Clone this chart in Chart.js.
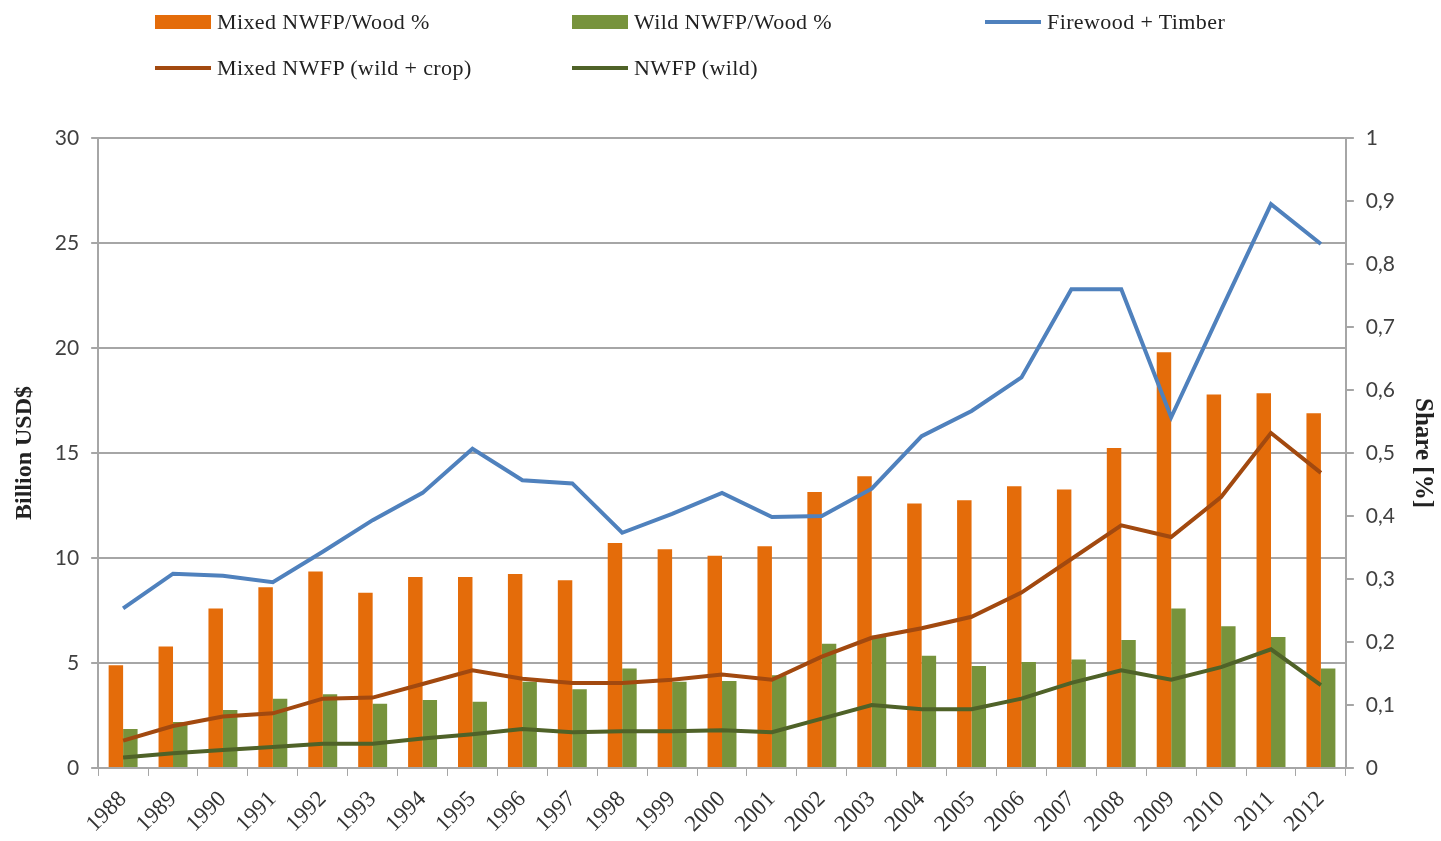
<!DOCTYPE html>
<html>
<head>
<meta charset="utf-8">
<title>NWFP vs wood</title>
<script src="https://cdn.jsdelivr.net/npm/chart.js@4.4.1/dist/chart.umd.min.js"></script>
<style>
  body { margin: 0; background: #fff; }
  #wrap { position: relative; width: 1441px; height: 841px; overflow: hidden; }
  #legend { position: absolute; left: 0; top: 0; width: 1441px; height: 100px;
            font-family: "Liberation Serif", "DejaVu Serif", serif; font-size: 22px; color: #222;
            letter-spacing: 0.4px; }
  .item { position: absolute; display: flex; align-items: center; height: 26px; }
  .sw { width: 56px; margin-right: 6px; }
</style>
</head>
<body>
<div id="wrap">
  <canvas id="chart" width="1441" height="841"></canvas>
  <div id="legend"></div>
</div>
<script>
// data
const years = ['1988','1989','1990','1991','1992','1993','1994','1995','1996','1997','1998','1999',
  '2000','2001','2002','2003','2004','2005','2006','2007','2008','2009','2010','2011','2012'];

// shares (right axis)
const mixedShare = [0.163, 0.193, 0.253, 0.287, 0.312, 0.278, 0.303, 0.303, 0.308, 0.298, 0.357, 0.347,
  0.337, 0.352, 0.438, 0.463, 0.420, 0.425, 0.447, 0.442, 0.508, 0.660, 0.593, 0.595, 0.563];
const wildShare = [0.062, 0.073, 0.092, 0.110, 0.117, 0.102, 0.108, 0.105, 0.137, 0.125, 0.158, 0.137,
  0.138, 0.147, 0.197, 0.210, 0.178, 0.162, 0.168, 0.172, 0.203, 0.253, 0.225, 0.208, 0.158];

// billion USD (left axis)
const firewoodTimber = [7.6, 9.25, 9.15, 8.85, 10.3, 11.8, 13.1, 15.2, 13.7, 13.55, 11.2, 12.1,
  13.1, 11.95, 12.0, 13.3, 15.8, 17.0, 18.6, 22.8, 22.8, 16.7, 21.8, 26.85, 24.95];
const mixedNwfp = [1.3, 2.0, 2.45, 2.6, 3.3, 3.35, 4.0, 4.65, 4.25, 4.05, 4.05, 4.2,
  4.45, 4.2, 5.3, 6.2, 6.65, 7.2, 8.35, 9.95, 11.55, 11.0, 12.9, 15.95, 14.05];
const wildNwfp = [0.5, 0.7, 0.85, 1.0, 1.15, 1.15, 1.4, 1.6, 1.85, 1.7, 1.75, 1.75,
  1.8, 1.7, 2.35, 3.0, 2.8, 2.8, 3.3, 4.05, 4.65, 4.2, 4.8, 5.65, 3.95];

const leftMax = 30, leftStep = 5;
const rightMax = 1, rightStep = 0.1;

const labelFont = { family: 'Lato, "Liberation Sans", sans-serif', size: 21 };
const gridGrey = '#a6a6a6';

const ctx = document.getElementById('chart');

const chart = new Chart(ctx, {
  type: 'bar',
  data: {
    labels: years,
    datasets: [
      { type: 'bar', label: 'Mixed NWFP/Wood %', data: mixedShare, yAxisID: 'y1',
        backgroundColor: '#e46c0a', categoryPercentage: 0.58, barPercentage: 1, order: 2 },
      { type: 'bar', label: 'Wild NWFP/Wood %', data: wildShare, yAxisID: 'y1',
        backgroundColor: '#77933c', categoryPercentage: 0.58, barPercentage: 1, order: 2 },
      { type: 'line', label: 'Firewood + Timber', data: firewoodTimber, yAxisID: 'y',
        borderColor: '#4f81bd', borderWidth: 4, pointRadius: 0, tension: 0, order: 1 },
      { type: 'line', label: 'Mixed NWFP (wild + crop)', data: mixedNwfp, yAxisID: 'y',
        borderColor: '#a2490f', borderWidth: 4, pointRadius: 0, tension: 0, order: 1 },
      { type: 'line', label: 'NWFP (wild)', data: wildNwfp, yAxisID: 'y',
        borderColor: '#4f6228', borderWidth: 4, pointRadius: 0, tension: 0, order: 1 }
    ]
  },
  options: {
    responsive: false,
    animation: false,
    layout: { padding: { top: 138, left: 10, right: 0, bottom: -7 } },
    plugins: {
      legend: { display: false },
      tooltip: { enabled: false }
    },
    scales: {
      x: {
        offset: true,
        grid: { drawOnChartArea: false, drawTicks: true, tickLength: 8, color: gridGrey, offset: true },
        border: { color: gridGrey, width: 2 },
        ticks: { minRotation: 45, maxRotation: 45, color: '#333', padding: 10,
                 font: { family: '"Liberation Serif", serif', size: 23 } }
      },
      y: {
        position: 'left',
        min: 0, max: leftMax,
        ticks: { stepSize: leftStep, color: '#404040', font: labelFont, padding: 12 },
        grid: { color: gridGrey, lineWidth: 2, tickLength: 7 },
        border: { color: gridGrey, width: 2 },
        title: { display: true, text: 'Billion USD$', color: '#222', padding: { top: 0, bottom: 4 },
                 font: { family: '"Liberation Serif", serif', size: 24, weight: 'bold' } }
      },
      y1: {
        position: 'right',
        min: 0, max: rightMax,
        ticks: { stepSize: rightStep, color: '#404040', font: labelFont, padding: 12,
                 callback: v => String(Math.round(v * 10) / 10).replace('.', ',') },
        grid: { drawOnChartArea: false, tickLength: 8, color: gridGrey, lineWidth: 2 },
        border: { color: gridGrey, width: 2 },
        title: { display: true, text: 'Share [%]', color: '#222', padding: { top: 4, bottom: 0 },
                 font: { family: '"Liberation Serif", serif', size: 25, weight: 'bold' } }
      }
    }
  }
});

// legend laid out in columns like the original
const slots = [[155, 9], [572, 9], [985, 9], [155, 55], [572, 55]];
const legend = document.getElementById('legend');
chart.data.datasets.forEach((ds, i) => {
  const it = document.createElement('div');
  it.className = 'item';
  it.style.left = slots[i][0] + 'px';
  it.style.top = slots[i][1] + 'px';
  const sw = document.createElement('span');
  sw.className = 'sw';
  if (ds.type === 'bar') {
    sw.style.height = '14px';
    sw.style.background = ds.backgroundColor;
  } else {
    sw.style.height = '4px';
    sw.style.background = ds.borderColor;
  }
  const tx = document.createElement('span');
  tx.textContent = ds.label;
  it.appendChild(sw);
  it.appendChild(tx);
  legend.appendChild(it);
});
</script>
</body>
</html>
